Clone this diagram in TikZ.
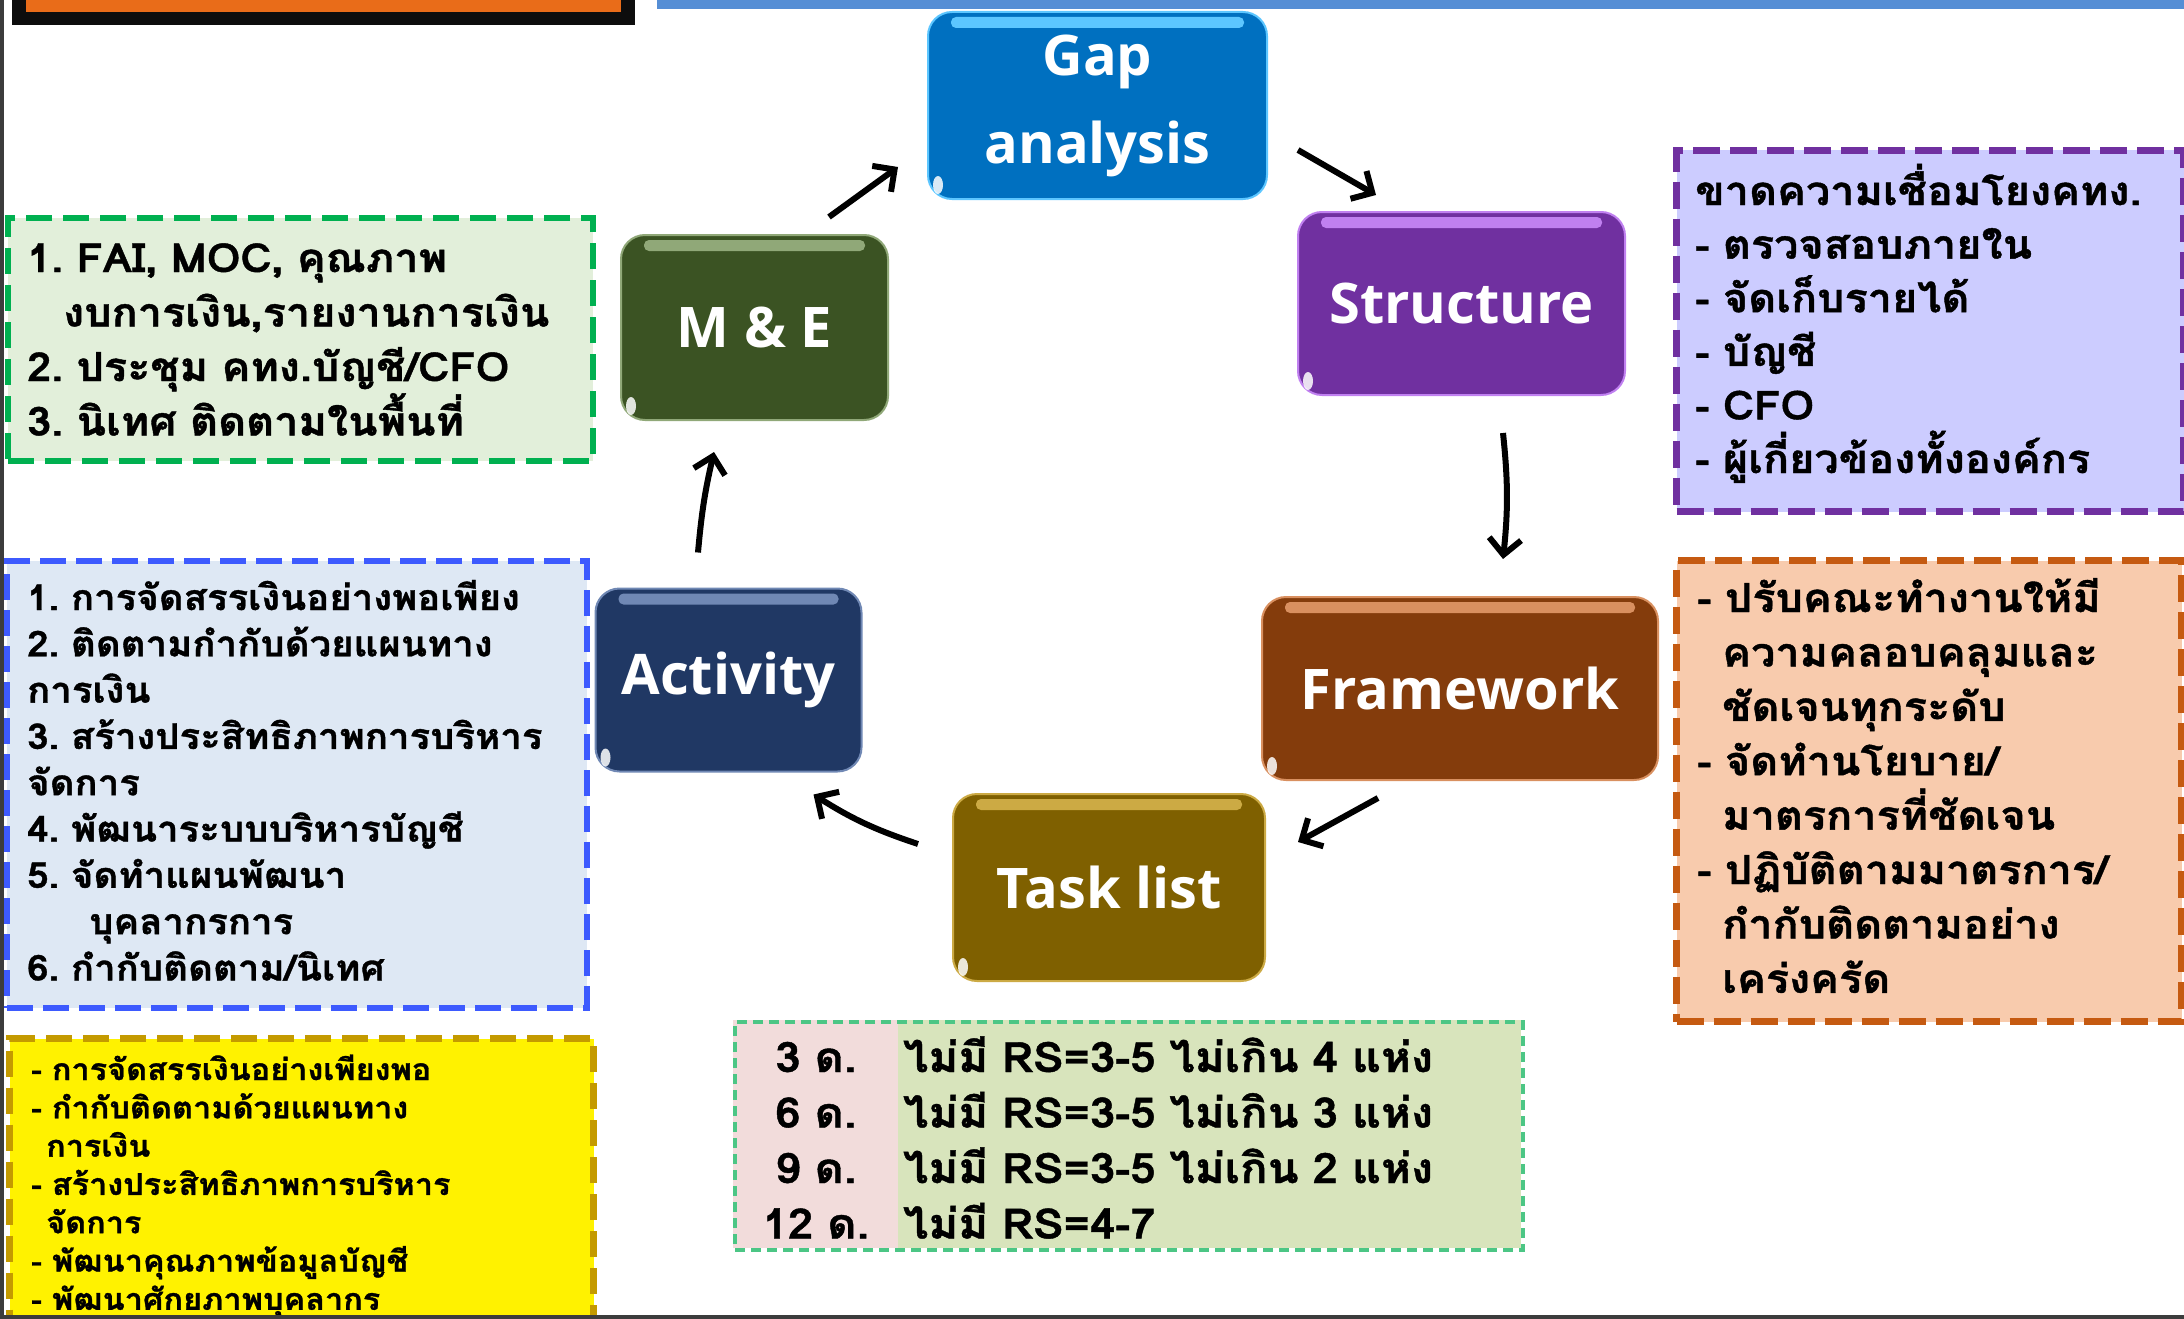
\documentclass[tikz,border=0pt]{standalone}
\usepackage{fontspec}
\newfontfamily\thai[Script=Thai, WordSpace=0.72, FakeStretch=1.08, BoldFeatures={FakeBold=1}]{Loma}
\newfontfamily\lab{Open Sans}
\usetikzlibrary{arrows.meta,calc}
\definecolor{cgap}{HTML}{0070C0}
\definecolor{cgapb}{HTML}{5CC6FF}
\definecolor{cstr}{HTML}{7030A0}
\definecolor{cstrb}{HTML}{C080F0}
\definecolor{cfw}{HTML}{843C0C}
\definecolor{cfwb}{HTML}{D99060}
\definecolor{ctl}{HTML}{7F6000}
\definecolor{ctlb}{HTML}{CCAA44}
\definecolor{cact}{HTML}{203864}
\definecolor{cactb}{HTML}{7088B4}
\definecolor{cme}{HTML}{3B5323}
\definecolor{cmeb}{HTML}{90A878}
\definecolor{gfill}{HTML}{E2EFDA}
\definecolor{gline}{HTML}{00B050}
\definecolor{bfill}{HTML}{DEE8F4}
\definecolor{bline}{HTML}{3D5AFE}
\definecolor{yline}{HTML}{C49A00}
\definecolor{pfill}{HTML}{CCCCFF}
\definecolor{pline}{HTML}{7030A0}
\definecolor{ofill}{HTML}{F8CBAD}
\definecolor{oline}{HTML}{C55A11}
\definecolor{tpink}{HTML}{F2DCDB}
\definecolor{tgreen}{HTML}{D8E4BC}
\definecolor{tline}{HTML}{4CC685}
\definecolor{hdr}{HTML}{E96C19}
\definecolor{topblue}{HTML}{558ED5}
\definecolor{frame}{HTML}{3C3C3C}
\newcommand\tfont[2]{\thai\bfseries\fontsize{#1}{#2}\selectfont\frenchspacing\lineskiplimit=-100pt\relax}
\newcommand\gbox[8]{%
  \node[gb, fill=#6, draw=#7, minimum width=#4, minimum height=#5] (#1) at (#2,#3) {#8};
  \fill[#7, rounded corners=5] ($(#1.north west)+(24,6)$) rectangle ($(#1.north east)+(-24,17)$);
  \fill[white, opacity=.85] ($(#1.south west)+(11,-15)$) ellipse [x radius=5, y radius=9];
}
\begin{document}
\begin{tikzpicture}[x=1pt,y=-1pt,
  gb/.style={rectangle, rounded corners=24, line width=2, inner sep=0, text=white, align=center,
    font=\lab\bfseries\fontsize{56}{88}\selectfont},
  tb/.style={rectangle, inner sep=0, anchor=north west},
  txt/.style={anchor=base west, inner sep=0, align=left},
  arr/.style={line width=6, -{Straight Barb[length=16pt,width=32pt,line width=6pt]}}]
\useasboundingbox (0,0) rectangle (2184,1319);
\fill[white] (0,0) rectangle (2184,1319);
% header remnants
\fill[black!95] (12,-10) rectangle (635,25);
\fill[hdr] (26,-10) rectangle (621,12);
\fill[topblue] (657,-5) rectangle (2190,9);
% text boxes
\node[tb, draw=gline, fill=gfill, line width=6, dash pattern=on 26pt off 11pt,
  minimum width=585, minimum height=243] (gboxn) at (5,215) {};
\node[tb, draw=bline, fill=bfill, line width=6, dash pattern=on 26pt off 10pt,
  minimum width=580, minimum height=447] (bboxn) at (4,558) {};
\node[tb, draw=yline, fill=yellow, line width=7, dash pattern=on 26pt off 11pt,
  minimum width=584, minimum height=300] (yboxn) at (6,1035) {};
\node[tb, draw=pline, fill=pfill, line width=7, dash pattern=on 27pt off 10pt,
  minimum width=507, minimum height=361] (pboxn) at (1673,147) {};
\node[tb, draw=oline, fill=ofill, line width=7, dash pattern=on 27pt off 10pt,
  minimum width=505, minimum height=461] (oboxn) at (1673,557) {};
\fill[tgreen] (733,1020) rectangle (1521,1248);
\fill[tpink] (733,1020) rectangle (898,1248);
\node[tb, draw=tline, line width=4, dash pattern=on 10pt off 6pt,
  minimum width=788, minimum height=228] (tabn) at (733,1020) {};
% texts
\node[txt, font=\tfont{40}{54.5}, text width=560] (gtxt) at (27,272)
  {1. FAI, MOC, คุณภาพ\\\hspace*{36pt}งบการเงิน,รายงานการเงิน\\2. ประชุม คทง.บัญชี/CFO\\3. นิเทศ ติดตามในพื้นที่};
\node[txt, font=\tfont{35.5}{46.3}, text width=560] (btxt) at (27,610)
  {1. การจัดสรรเงินอย่างพอเพียง\\2. ติดตามกำกับด้วยแผนทาง\\การเงิน\\3. สร้างประสิทธิภาพการบริหาร\\จัดการ\\4. พัฒนาระบบบริหารบัญชี\\5. จัดทำแผนพัฒนา\\\hspace*{62pt}บุคลากรการ\\6. กำกับติดตาม/นิเทศ};
\node[txt, font=\tfont{30}{38.3}, text width=560] (ytxt) at (31,1080)
  {- การจัดสรรเงินอย่างเพียงพอ\\- กำกับติดตามด้วยแผนทาง\\\hspace*{15pt}การเงิน\\- สร้างประสิทธิภาพการบริหาร\\\hspace*{15pt}จัดการ\\- พัฒนาคุณภาพข้อมูลบัญชี\\- พัฒนาศักยภาพบุคลากร};
\node[txt, font=\tfont{40}{53.6}, text width=480] (ptxt) at (1695,205)
  {ขาดความเชื่อมโยงคทง.\\- ตรวจสอบภายใน\\- จัดเก็บรายได้\\- บัญชี\\- CFO\\- ผู้เกี่ยวข้องทั้งองค์กร};
\node[txt, font=\tfont{40}{54.4}, text width=480] (otxt) at (1697,612)
  {- ปรับคณะทำงานให้มี\\\hspace*{25pt}ความคลอบคลุมและ\\\hspace*{25pt}ชัดเจนทุกระดับ\\- จัดทำนโยบาย/\\\hspace*{25pt}มาตรการที่ชัดเจน\\- ปฏิบัติตามมาตรการ/\\\hspace*{25pt}กำกับติดตามอย่าง\\\hspace*{25pt}เคร่งครัด};
\node[anchor=base, inner sep=0, align=center, text width=160, font=\tfont{42}{55.5}] (tleft) at (816,1072)
  {3 ด.\\6 ด.\\9 ด.\\12 ด.};
\node[txt, font=\tfont{42}{55.5}, text width=600] (tright) at (903,1072)
  {ไม่มี RS=3-5 ไม่เกิน 4 แห่ง\\ไม่มี RS=3-5 ไม่เกิน 3 แห่ง\\ไม่มี RS=3-5 ไม่เกิน 2 แห่ง\\ไม่มี RS=4-7};
% cycle boxes
\gbox{gap}{1097.5}{105.5}{339}{187}{cgap}{cgapb}{Gap\\analysis}
\gbox{str}{1461.5}{303.5}{327}{183}{cstr}{cstrb}{Structure}
\gbox{fw}{1460}{688.5}{396}{183}{cfw}{cfwb}{Framework}
\gbox{tl}{1109}{887.5}{312}{187}{ctl}{ctlb}{Task list}
\gbox{act}{728.5}{680}{266}{183}{cact}{cactb}{Activity}
\gbox{me}{754.5}{327.5}{267}{185}{cme}{cmeb}{M \& E}
% arrows
\draw[arr] ($(me.north)+(74.5,-17)$) -- ($(gap.west)+(-29,61.5)$);
\draw[arr] ($(gap.east)+(30,44.5)$) -- ($(str.north)+(-85.5,-16)$);
\draw[arr] ($(str.south)+(41.5,37)$) to[bend left=6] ($(fw.north)+(43,-37)$);
\draw[arr] ($(fw.south)+(-82,17)$) -- ($(tl.east)+(32,-45.5)$);
\draw[arr] ($(tl.west)+(-34,-43.5)$) to[bend left=7] ($(act.south east)+(-49,22)$);
\draw[arr] ($(act.north)+(-30.5,-35)$) to[bend left=4] ($(me.south)+(-40.5,31)$);
% frame
\fill[frame] (0,0) rectangle (3.5,1319);
\fill[frame] (0,1315) rectangle (2184,1319);
\end{tikzpicture}
\end{document}
